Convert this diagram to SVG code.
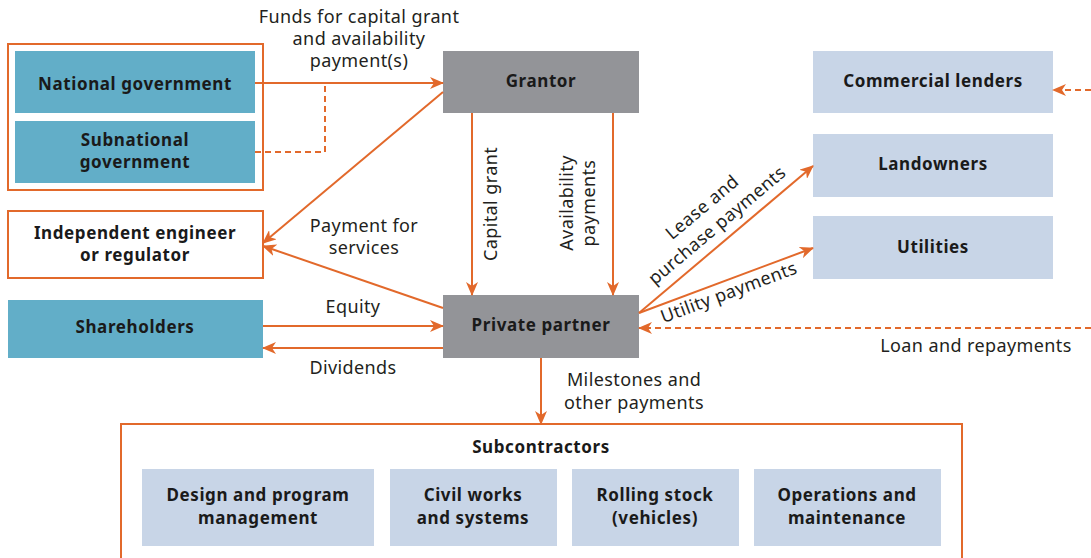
<svg xmlns="http://www.w3.org/2000/svg" width="1091" height="558" viewBox="0 0 1091 558">
<defs>
<style>
.teal{fill:#62aec8}
.gray{fill:#939498}
.lb{fill:#c8d5e7}
.ob{fill:none;stroke:#e2692b;stroke-width:2}
.wb{fill:#fff;stroke:#e2692b;stroke-width:2}
.n{font-family:"Noto Sans","Open Sans",sans-serif;font-size:17px;font-weight:bold;fill:#1a1a1a;text-anchor:middle;letter-spacing:0.6px}
.l{font-family:"Noto Sans","Open Sans",sans-serif;font-size:18px;fill:#231f20;text-anchor:middle;letter-spacing:0.4px}
.c{fill:none;stroke:#e2692b;stroke-width:2}
.d{fill:none;stroke:#e2692b;stroke-width:2;stroke-dasharray:6 4}
</style>
<marker id="ah" markerWidth="14" markerHeight="12" refX="13" refY="6" orient="auto" markerUnits="userSpaceOnUse">
<path d="M0,0 L14,6 L0,12 L4,6 z" fill="#e2692b"/>
</marker>
</defs>
<rect width="1091" height="558" fill="#fff"/>

<g id="government">
<rect class="wb" x="8" y="44" width="255" height="146"/>
</g>
<g id="national-government">
<rect class="teal" x="15" y="51" width="240" height="62"/>
<text class="n" x="135" y="90">National government</text>
</g>
<g id="subnational-government">
<rect class="teal" x="15" y="121" width="240" height="62"/>
<text class="n" x="135" y="146">Subnational</text>
<text class="n" x="135" y="168">government</text>
</g>
<g id="grantor">
<rect class="gray" x="443" y="51" width="196" height="62"/>
<text class="n" x="541" y="87">Grantor</text>
</g>
<g id="commercial-lenders">
<rect class="lb" x="813" y="51" width="240" height="62"/>
<text class="n" x="933" y="87">Commercial lenders</text>
</g>
<g id="landowners">
<rect class="lb" x="813" y="134" width="240" height="63"/>
<text class="n" x="933" y="170">Landowners</text>
</g>
<g id="utilities">
<rect class="lb" x="813" y="216" width="240" height="63"/>
<text class="n" x="933" y="253">Utilities</text>
</g>
<g id="independent-engineer">
<rect class="wb" x="8" y="211" width="255" height="67"/>
<text class="n" x="135" y="239">Independent engineer</text>
<text class="n" x="135" y="261">or regulator</text>
</g>
<g id="shareholders">
<rect class="teal" x="8" y="300" width="255" height="58"/>
<text class="n" x="135" y="333">Shareholders</text>
</g>
<g id="private-partner">
<rect class="gray" x="443" y="295" width="196" height="63"/>
<text class="n" x="541" y="331">Private partner</text>
</g>
<g id="subcontractors">
<path class="ob" d="M121,558 V424 H962 V558"/>
<text class="n" x="541" y="453">Subcontractors</text>
</g>
<g id="design">
<rect class="lb" x="142" y="469" width="232" height="77"/>
<text class="n" x="258" y="501">Design and program</text>
<text class="n" x="258" y="524">management</text>
</g>
<g id="civil-works">
<rect class="lb" x="390" y="469" width="167" height="77"/>
<text class="n" x="473" y="501">Civil works</text>
<text class="n" x="473" y="524">and systems</text>
</g>
<g id="rolling-stock">
<rect class="lb" x="572" y="469" width="167" height="77"/>
<text class="n" x="655" y="501">Rolling stock</text>
<text class="n" x="655" y="524">(vehicles)</text>
</g>
<g id="operations">
<rect class="lb" x="754" y="469" width="187" height="77"/>
<text class="n" x="847" y="501">Operations and</text>
<text class="n" x="847" y="524">maintenance</text>
</g>

<g id="connectors">
<line class="c" x1="255" y1="83" x2="443" y2="83" marker-end="url(#ah)"/>
<path class="d" d="M255,152 H325 V84"/>
<line class="c" x1="443" y1="92" x2="263" y2="243" marker-end="url(#ah)"/>
<line class="c" x1="472" y1="113" x2="472" y2="295" marker-end="url(#ah)"/>
<line class="c" x1="613" y1="113" x2="613" y2="295" marker-end="url(#ah)"/>
<line class="c" x1="443" y1="308" x2="263" y2="246" marker-end="url(#ah)"/>
<line class="c" x1="263" y1="326" x2="443" y2="326" marker-end="url(#ah)"/>
<line class="c" x1="443" y1="348" x2="263" y2="348" marker-end="url(#ah)"/>
<line class="c" x1="639" y1="313" x2="813" y2="166" marker-end="url(#ah)"/>
<line class="c" x1="639" y1="313" x2="813" y2="248" marker-end="url(#ah)"/>
<line class="d" x1="1091" y1="328" x2="639" y2="328" marker-end="url(#ah)"/>
<line class="d" x1="1091" y1="90" x2="1053" y2="90" marker-end="url(#ah)"/>
<line class="c" x1="541" y1="358" x2="541" y2="424" marker-end="url(#ah)"/>

<text class="l" x="359" y="23">Funds for capital grant</text>
<text class="l" x="359" y="45">and availability</text>
<text class="l" x="359" y="67">payment(s)</text>
<text class="l" x="364" y="232">Payment for</text>
<text class="l" x="364" y="254">services</text>
<text class="l" x="353" y="313">Equity</text>
<text class="l" x="353" y="374">Dividends</text>
<text class="l" transform="translate(497,204) rotate(-90)">Capital grant</text>
<text class="l" transform="translate(573,203) rotate(-90)">Availability</text>
<text class="l" transform="translate(595,203) rotate(-90)">payments</text>
<text class="l" transform="translate(706,212) rotate(-40)">Lease and</text>
<text class="l" transform="translate(721,230) rotate(-40)">purchase payments</text>
<text class="l" transform="translate(731,298) rotate(-20.5)">Utility payments</text>
<text class="l" x="976" y="352">Loan and repayments</text>
<text class="l" x="634" y="386">Milestones and</text>
<text class="l" x="634" y="409">other payments</text>
</g>
</svg>
